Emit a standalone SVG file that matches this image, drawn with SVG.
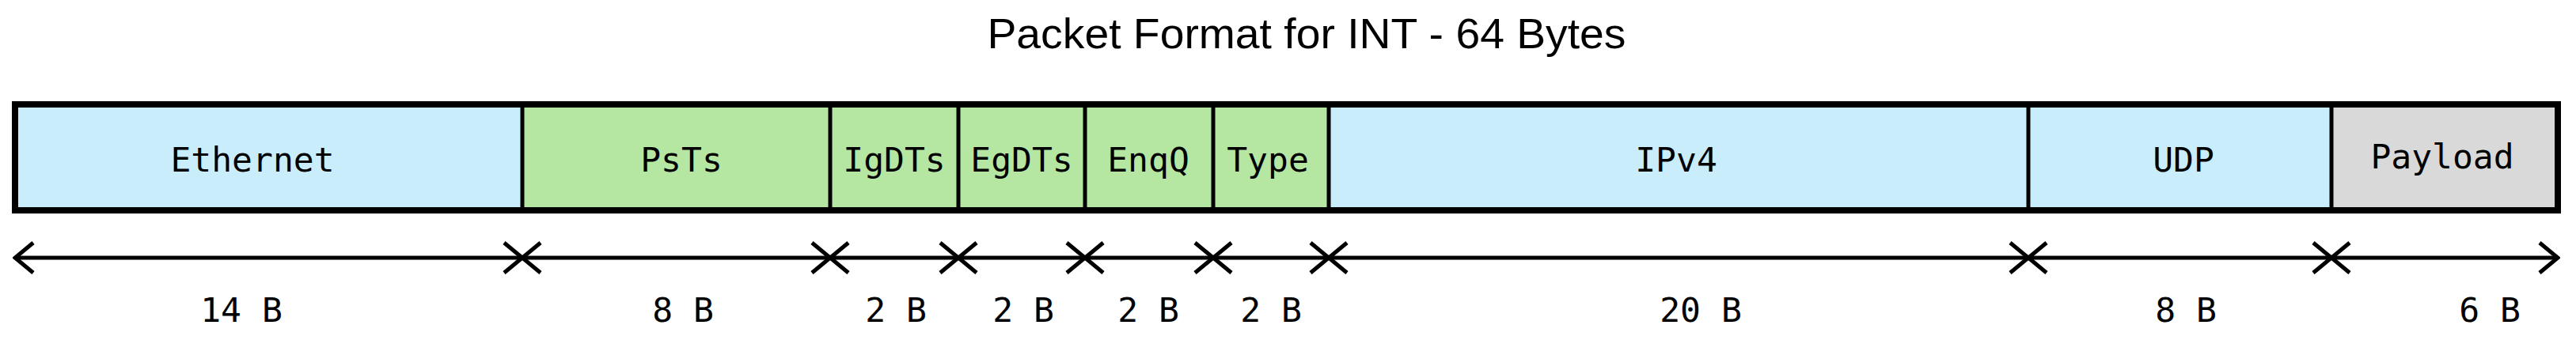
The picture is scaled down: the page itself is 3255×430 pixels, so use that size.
<svg xmlns="http://www.w3.org/2000/svg" width="3255" height="430" viewBox="0 0 3255 430">
<style>
.lbl{font-family:"DejaVu Sans Mono","Liberation Mono",monospace;font-size:43px;fill:#000;text-anchor:middle}
.b{fill:#CAEDFB}.g{fill:#B5E6A2}.p{fill:#D9D9D9}
.div{stroke:#000;stroke-width:5}
.arr{stroke:#000;stroke-width:5;fill:none;marker-start:url(#h);marker-end:url(#h)}
</style>
<defs>
<marker id="h" viewBox="0 0 30 44" refX="27" refY="22" markerWidth="30" markerHeight="44" markerUnits="userSpaceOnUse" orient="auto-start-reverse">
<path d="M4,3 L27,22 L4,41" fill="none" stroke="#000" stroke-width="5"/>
</marker>
</defs>
<text x="1651" y="61" font-family="Liberation Sans, Arial, sans-serif" font-size="54" text-anchor="middle" textLength="807" lengthAdjust="spacingAndGlyphs">Packet Format for INT - 64 Bytes</text>
<g id="ethernet"><rect class="b" x="19" y="132" width="641" height="134"/><text class="lbl" x="319" y="217">Ethernet</text></g>
<g id="psts"><rect class="g" x="660" y="132" width="389" height="134"/><text class="lbl" x="861" y="217">PsTs</text></g>
<g id="igdts"><rect class="g" x="1049" y="132" width="162" height="134"/><text class="lbl" x="1130" y="217">IgDTs</text></g>
<g id="egdts"><rect class="g" x="1211" y="132" width="160" height="134"/><text class="lbl" x="1291" y="217">EgDTs</text></g>
<g id="enqq"><rect class="g" x="1371" y="132" width="162" height="134"/><text class="lbl" x="1451" y="217">EnqQ</text></g>
<g id="type"><rect class="g" x="1533" y="132" width="146" height="134"/><text class="lbl" x="1602" y="217">Type</text></g>
<g id="ipv4"><rect class="b" x="1679" y="132" width="884" height="134"/><text class="lbl" x="2118" y="217">IPv4</text></g>
<g id="udp"><rect class="b" x="2563" y="132" width="383" height="134"/><text class="lbl" x="2759" y="217">UDP</text></g>
<g id="payload"><rect class="p" x="2946" y="132" width="286" height="134"/><text class="lbl" x="3086" y="213">Payload</text></g>
<g id="frame">
<line class="div" x1="660" y1="132" x2="660" y2="266"/>
<line class="div" x1="1049" y1="132" x2="1049" y2="266"/>
<line class="div" x1="1211" y1="132" x2="1211" y2="266"/>
<line class="div" x1="1371" y1="132" x2="1371" y2="266"/>
<line class="div" x1="1533" y1="132" x2="1533" y2="266"/>
<line class="div" x1="1679" y1="132" x2="1679" y2="266" stroke-width="7"/>
<line class="div" x1="2563" y1="132" x2="2563" y2="266"/>
<line class="div" x1="2946" y1="132" x2="2946" y2="266" stroke-width="7"/>
<rect x="19" y="132" width="3213" height="134" fill="none" stroke="#000" stroke-width="8"/>
</g>
<g id="connectors">
<line class="arr" x1="19" y1="326" x2="660" y2="326"/>
<line class="arr" x1="660" y1="326" x2="1049" y2="326"/>
<line class="arr" x1="1049" y1="326" x2="1211" y2="326"/>
<line class="arr" x1="1211" y1="326" x2="1371" y2="326"/>
<line class="arr" x1="1371" y1="326" x2="1533" y2="326"/>
<line class="arr" x1="1533" y1="326" x2="1679" y2="326"/>
<line class="arr" x1="1679" y1="326" x2="2563" y2="326"/>
<line class="arr" x1="2563" y1="326" x2="2946" y2="326"/>
<line class="arr" x1="2946" y1="326" x2="3232" y2="326"/>
</g>
<g id="sizes">
<text class="lbl" x="305" y="407">14 B</text>
<text class="lbl" x="863" y="407">8 B</text>
<text class="lbl" x="1132" y="407">2 B</text>
<text class="lbl" x="1293" y="407">2 B</text>
<text class="lbl" x="1451" y="407">2 B</text>
<text class="lbl" x="1606" y="407">2 B</text>
<text class="lbl" x="2149" y="407">20 B</text>
<text class="lbl" x="2762" y="407">8 B</text>
<text class="lbl" x="3146" y="407">6 B</text>
</g>
</svg>
